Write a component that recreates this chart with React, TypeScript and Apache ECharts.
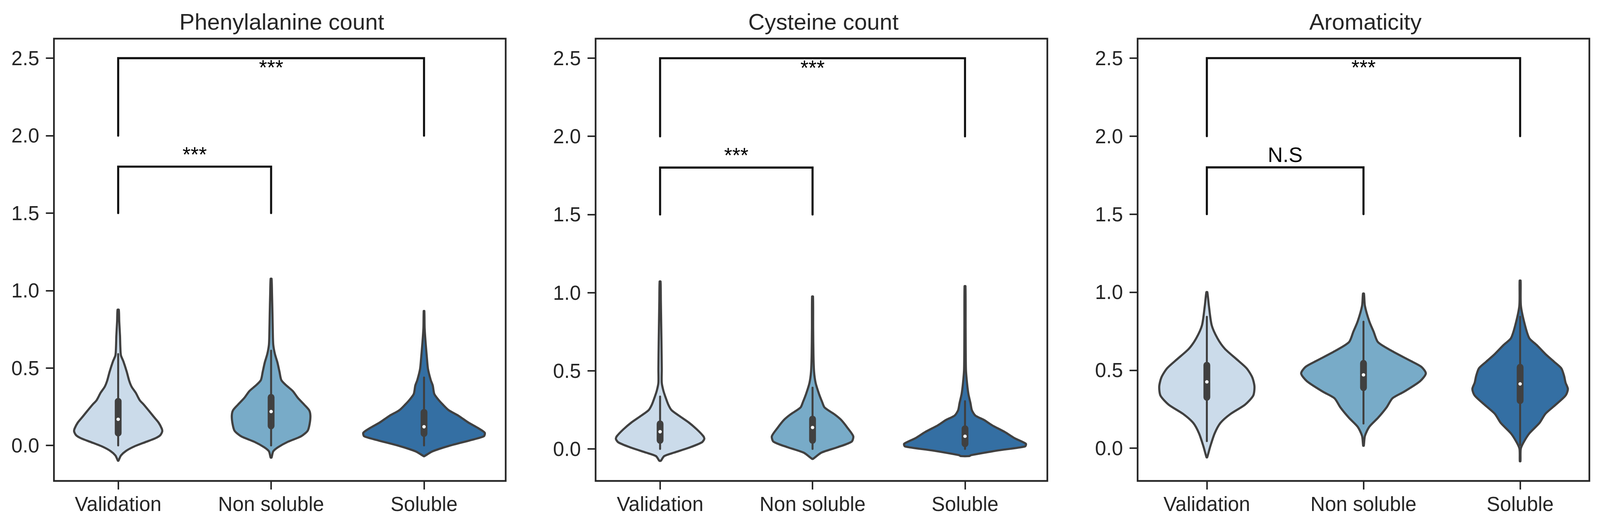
import React, { useEffect, useRef } from 'react';
import * as echarts from 'echarts';

const categories = ['Validation', 'Non soluble', 'Soluble'];
const titles = ['Phenylalanine count', 'Cysteine count', 'Aromaticity'];
const yTicks = [0, 0.5, 1, 1.5, 2, 2.5];
const xTicks = [0, 1, 2];
const violinColors = ['#cbdbea', '#78abc8', '#346fa3'];

// violin outlines, top to bottom: [value, half width in category units]
const pheValidation = [
  [0.876, 0.004], [0.8, 0.007], [0.707, 0.012], [0.64, 0.014], [0.582, 0.018], [0.543, 0.034],
  [0.476, 0.056], [0.418, 0.072], [0.379, 0.088], [0.34, 0.115], [0.292, 0.141], [0.263, 0.168],
  [0.225, 0.2], [0.186, 0.232], [0.148, 0.264], [0.109, 0.285], [0.09, 0.288], [0.066, 0.275],
  [0.046, 0.242], [0.022, 0.179], [-0.007, 0.104], [-0.036, 0.05], [-0.065, 0.018], [-0.098, 0.002],
];
const pheNonSoluble = [
  [1.076, 0.003], [0.979, 0.006], [0.847, 0.009], [0.741, 0.011], [0.652, 0.014], [0.59, 0.025],
  [0.537, 0.041], [0.475, 0.055], [0.422, 0.067], [0.387, 0.1], [0.351, 0.142], [0.307, 0.175],
  [0.263, 0.217], [0.227, 0.249], [0.192, 0.257], [0.139, 0.252], [0.095, 0.239], [0.059, 0.196],
  [0.024, 0.11], [-0.011, 0.046], [-0.038, 0.014], [-0.078, 0.003],
];
const pheSoluble = [
  [0.868, 0.002], [0.758, 0.004], [0.669, 0.01], [0.563, 0.019], [0.493, 0.026], [0.422, 0.044],
  [0.387, 0.057], [0.333, 0.067], [0.298, 0.092], [0.263, 0.124], [0.227, 0.162], [0.192, 0.225],
  [0.148, 0.29], [0.112, 0.354], [0.082, 0.397], [0.059, 0.391], [0.033, 0.3], [-0.003, 0.162],
  [-0.038, 0.055], [-0.069, 0.002],
];
const cysValidation = [
  [1.071, 0.003], [0.949, 0.005], [0.686, 0.009], [0.511, 0.011], [0.423, 0.011], [0.371, 0.022],
  [0.327, 0.037], [0.283, 0.054], [0.248, 0.075], [0.213, 0.123], [0.169, 0.188], [0.125, 0.241],
  [0.081, 0.284], [0.064, 0.29], [0.042, 0.274], [0.011, 0.199], [-0.024, 0.091], [-0.046, 0.027],
  [-0.076, 0.005],
];
const cysNonSoluble = [
  [0.975, 0.003], [0.773, 0.004], [0.598, 0.006], [0.493, 0.01], [0.423, 0.02], [0.353, 0.042],
  [0.3, 0.063], [0.265, 0.079], [0.221, 0.144], [0.186, 0.187], [0.134, 0.23], [0.081, 0.267],
  [0.046, 0.256], [0.011, 0.165], [-0.024, 0.058], [-0.063, 0.004],
];
const cysSoluble = [
  [1.041, 0.003], [0.773, 0.004], [0.511, 0.006], [0.423, 0.013], [0.353, 0.022], [0.292, 0.036],
  [0.248, 0.045], [0.213, 0.068], [0.186, 0.123], [0.151, 0.178], [0.108, 0.261], [0.068, 0.326],
  [0.033, 0.399], [0.016, 0.394], [-0.01, 0.215], [-0.04, 0.04], [-0.046, 0.027],
];
const aroValidation = [
  [1.0, 0.003], [0.913, 0.013], [0.788, 0.031], [0.704, 0.068], [0.637, 0.115], [0.571, 0.189],
  [0.512, 0.254], [0.454, 0.29], [0.395, 0.304], [0.337, 0.296], [0.279, 0.244], [0.22, 0.152],
  [0.162, 0.087], [0.095, 0.05], [0.012, 0.022], [-0.059, 0.002],
];
const aroNonSoluble = [
  [0.991, 0.003], [0.913, 0.009], [0.813, 0.037], [0.746, 0.065], [0.679, 0.093], [0.621, 0.185],
  [0.562, 0.296], [0.521, 0.37], [0.479, 0.398], [0.429, 0.361], [0.362, 0.259], [0.32, 0.185],
  [0.262, 0.148], [0.195, 0.093], [0.137, 0.037], [0.078, 0.009], [0.016, 0.002],
];
const aroSoluble = [
  [1.074, 0.003], [0.913, 0.005], [0.788, 0.031], [0.704, 0.059], [0.662, 0.105], [0.604, 0.161],
  [0.554, 0.217], [0.512, 0.263], [0.462, 0.281], [0.42, 0.29], [0.379, 0.305], [0.337, 0.29],
  [0.27, 0.217], [0.22, 0.161], [0.162, 0.124], [0.095, 0.059], [0.037, 0.022], [-0.005, 0.004],
  [-0.084, 0.002],
];

// inner boxes: [whisker low, q1, median, q3, whisker high]
const pheBoxes = [[0, 0.058, 0.169, 0.307, 0.59], [0, 0.104, 0.219, 0.333, 0.612], [0, 0.055, 0.121, 0.236, 0.439]];
const cysBoxes = [[0, 0.033, 0.11, 0.182, 0.335], [0, 0.033, 0.137, 0.213, 0.392], [0, 0.011, 0.081, 0.151, 0.305]];
const aroBoxes = [[0.045, 0.304, 0.425, 0.554, 0.842], [0.158, 0.366, 0.47, 0.566, 0.811], [0.02, 0.283, 0.412, 0.541, 0.842]];

// significance brackets: [from, to, leg bottom, bar]
const brackets = [[0, 1, 1.5, 1.8], [0, 2, 2.0, 2.5]];
const markLabels = [['***', '***'], ['***', '***'], ['N.S', '***']];
const markY = [1.88, 2.44];

// axis ranges per panel
const xRanges = [[-0.42, 2.534], [-0.423, 2.54], [-0.442, 2.442]];
const yRanges = [[-0.229, 2.626], [-0.205, 2.625], [-0.21, 2.625]];

const panels = [
  { outlines: [pheValidation, pheNonSoluble, pheSoluble], boxes: pheBoxes },
  { outlines: [cysValidation, cysNonSoluble, cysSoluble], boxes: cysBoxes },
  { outlines: [aroValidation, aroNonSoluble, aroSoluble], boxes: aroBoxes },
];

// layout on a 4360 x 1350 canvas, stretched to fill whatever the page gives
const baseW = 4360;
const baseH = 1350;
const gridLefts = [147, 1623, 3100];
const gridWidth = 1231;
const gridTop = 99;
const gridHeight = 1133;
const font = "'Liberation Sans', Arial, sans-serif";
const ink = '#262626';
const edge = '#404040';

const App: React.FC = () => {
  const chartRef = useRef<HTMLDivElement>(null);

  useEffect(() => {
    if (!chartRef.current) return;
    const el = chartRef.current;
    const sx = el.clientWidth / baseW || 1;
    const sy = el.clientHeight / baseH || 1;
    const sf = (sx + sy) / 2;
    const kx = (v: number) => v * sx;
    const ky = (v: number) => v * sy;
    const k = (v: number) => v * sf;
    const chart = echarts.init(el, undefined, { renderer: 'svg' });

    const series: any[] = [];
    panels.forEach((panel, p) => {
      series.push({
        type: 'custom',
        xAxisIndex: p,
        yAxisIndex: p,
        clip: false,
        silent: true,
        z: 2,
        data: categories.map((_, i) => [i]),
        renderItem: (params: any, api: any) => {
          const i = params.dataIndex;
          const outline = panel.outlines[i];
          const right = outline.map(([v, w]) => api.coord([i + w, v]));
          const left = outline.slice().reverse().map(([v, w]) => api.coord([i - w, v]));
          const [lo, q1, med, q3, hi] = panel.boxes[i];
          const pLo = api.coord([i, lo]);
          const pHi = api.coord([i, hi]);
          const pQ1 = api.coord([i, q1]);
          const pQ3 = api.coord([i, q3]);
          const pMed = api.coord([i, med]);
          return {
            type: 'group',
            children: [
              {
                type: 'polygon',
                shape: { points: right.concat(left), smooth: 0.25 },
                style: { fill: violinColors[i], stroke: edge, lineWidth: k(5.6), lineJoin: 'round' },
              },
              {
                type: 'line',
                shape: { x1: pLo[0], y1: pLo[1], x2: pHi[0], y2: pHi[1] },
                style: { stroke: edge, lineWidth: k(5.2), lineCap: 'round' },
              },
              {
                type: 'rect',
                shape: { x: pQ3[0] - k(9), y: pQ3[1], width: k(18), height: pQ1[1] - pQ3[1], r: k(9) },
                style: { fill: edge },
              },
              {
                type: 'circle',
                shape: { cx: pMed[0], cy: pMed[1], r: k(4.5) },
                style: { fill: '#ffffff' },
              },
            ],
          };
        },
      });

      brackets.forEach(([a, b, lo, hi]) => {
        series.push({
          type: 'line',
          xAxisIndex: p,
          yAxisIndex: p,
          data: [[a, lo], [a, hi], [b, hi], [b, lo]],
          symbol: 'none',
          silent: true,
          z: 3,
          lineStyle: { color: '#111111', width: k(5.5), cap: 'round', join: 'miter' },
        });
      });

      series.push({
        type: 'custom',
        xAxisIndex: p,
        yAxisIndex: p,
        clip: false,
        silent: true,
        z: 4,
        data: brackets.map(([a, b], j) => [(a + b) / 2, markY[j]]),
        renderItem: (params: any, api: any) => {
          const pt = api.coord([api.value(0), api.value(1)]);
          return {
            type: 'text',
            x: pt[0],
            y: pt[1],
            style: {
              text: markLabels[p][params.dataIndex],
              fontSize: k(55),
              fontFamily: font,
              fill: '#000000',
              align: 'center',
              verticalAlign: 'middle',
            },
          };
        },
      });
    });

    const option = {
      animation: false,
      backgroundColor: '#ffffff',
      title: titles.map((t, p) => ({
        text: t,
        left: kx(gridLefts[p] + gridWidth / 2),
        top: ky(21),
        textAlign: 'center',
        textStyle: { fontSize: k(60), fontWeight: 'normal', color: ink, fontFamily: font },
      })),
      grid: gridLefts.map((l) => ({
        left: kx(l),
        top: ky(gridTop),
        width: kx(gridWidth),
        height: ky(gridHeight),
        show: true,
        borderColor: ink,
        borderWidth: k(4.5),
        backgroundColor: 'transparent',
        containLabel: false,
      })),
      xAxis: xRanges.map(([mn, mx], p) => ({
        type: 'value',
        gridIndex: p,
        min: mn,
        max: mx,
        splitLine: { show: false },
        axisLine: { show: false, onZero: false },
        axisTick: { show: true, length: ky(22), customValues: xTicks, lineStyle: { color: ink, width: k(4) } },
        axisLabel: {
          customValues: xTicks,
          formatter: (v: number) => categories[Math.round(v)],
          fontSize: k(53),
          color: ink,
          fontFamily: font,
          margin: ky(33),
        },
      })),
      yAxis: yRanges.map(([mn, mx], p) => ({
        type: 'value',
        gridIndex: p,
        min: mn,
        max: mx,
        splitLine: { show: false },
        axisLine: { show: false, onZero: false },
        axisTick: { show: true, length: kx(22), customValues: yTicks, lineStyle: { color: ink, width: k(4) } },
        axisLabel: {
          customValues: yTicks,
          formatter: (v: number) => v.toFixed(1),
          fontSize: k(53),
          color: ink,
          fontFamily: font,
          margin: kx(40),
        },
      })),
      series,
    };

    chart.setOption(option);

    return () => {
      chart.dispose();
    };
  }, []);

  return (
    <div
      ref={chartRef}
      style={{ position: 'fixed', left: 0, top: 0, width: '100vw', height: '100vh', background: '#ffffff' }}
    />
  );
};

export default App;
